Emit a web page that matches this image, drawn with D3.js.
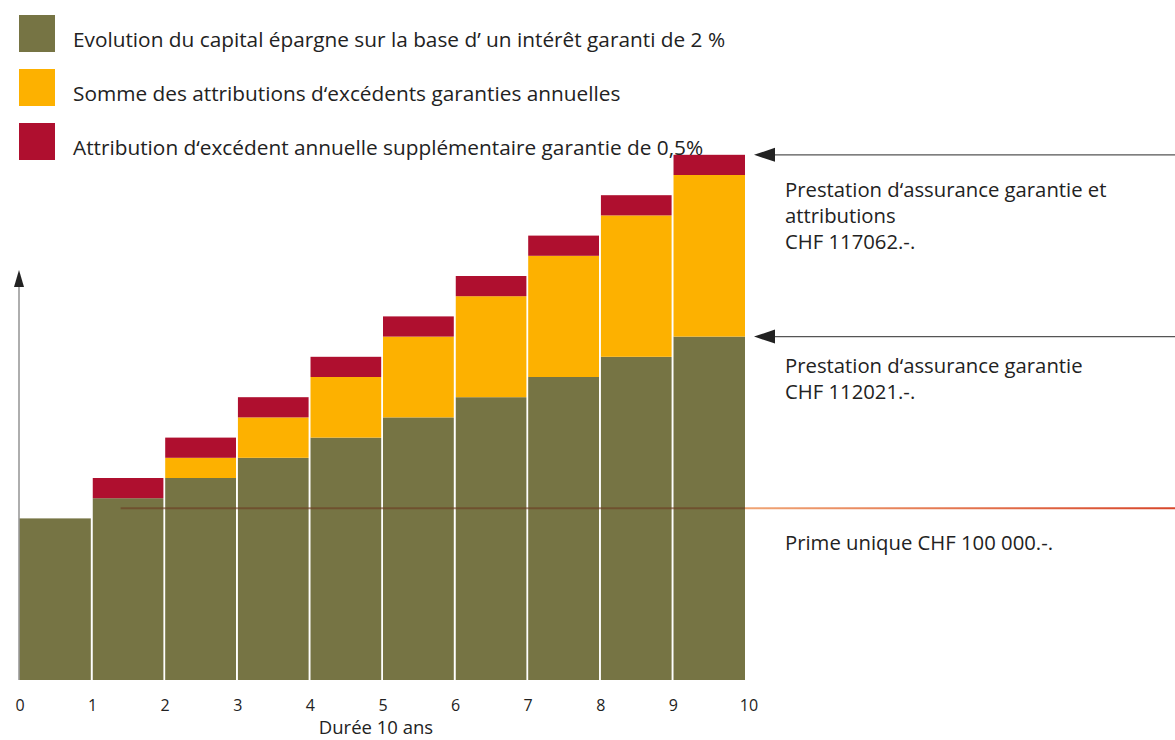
<!DOCTYPE html>
<html><head><meta charset="utf-8">
<script src="https://cdn.jsdelivr.net/npm/d3@7"></script>
<style>
html,body{margin:0;padding:0;background:#fff;}
svg{display:block;font-family:"Open Sans","Noto Sans",sans-serif;}
</style></head>
<body>
<svg id="chart" width="1175" height="740"></svg>
<script>
// ---- data (schematic units) ----
const years = [0,1,2,3,4,5,6,7,8,9];
const tickLabels = ["0","1","2","3","4","5","6","7","8","9","10"];
const capital = [8,9,10,11,12,13,14,15,16,17];          // olive
const sommeAttributions = [0,0,1,2,3,4,5,6,7,8];        // orange
const attributionAnnuelle = [0,1,1,1,1,1,1,1,1,1];      // red
const primeUnique = 8.5;
const legendLabels = [
  "Evolution du capital épargne sur la base d’ un intérêt garanti de 2 %",
  "Somme des attributions d‘excédents garanties annuelles",
  "Attribution d‘excédent annuelle supplémentaire garantie de 0,5%"
];
const colors = ["#767444","#FDB100","#AF0F2F"];
const annotTop = ["Prestation d‘assurance garantie et","attributions","CHF 117062.-."];
const annotMid = ["Prestation d‘assurance garantie","CHF 112021.-."];
const annotLow = ["Prime unique CHF 100 000.-."];
const xTitle = "Durée 10 ans";

// ---- layout ----
const svg = d3.select("#chart");
const x = d3.scaleLinear().domain([0,10]).range([19,745]);
const y = d3.scaleLinear().domain([0,26]).range([680,154.8]);

const defs = svg.append("defs");
const grad = defs.append("linearGradient").attr("id","lineGrad")
  .attr("gradientUnits","userSpaceOnUse").attr("x1",745).attr("x2",1175).attr("y1",0).attr("y2",0);
grad.append("stop").attr("offset","0%").attr("stop-color","#f0a575");
grad.append("stop").attr("offset","100%").attr("stop-color","#d7462a");

// stacked series
const rows = years.map((yr,i)=>({yr, a:capital[i], b:sommeAttributions[i], c:attributionAnnuelle[i]}));
const stack = d3.stack().keys(["a","b","c"])(rows);

svg.append("g").selectAll("g").data(stack).join("g")
  .attr("fill",(d,i)=>colors[i])
  .selectAll("rect").data(d=>d.filter(s=>s[1]-s[0]>0)).join("rect")
  .attr("x",d=>x(d.data.yr)+ (d.data.yr===0?0:1))
  .attr("width",d=>x(d.data.yr+1)-x(d.data.yr)-(d.data.yr===0?0:1))
  .attr("y",d=>y(d[1]))
  .attr("height",d=>y(d[0])-y(d[1]));

// white separators between bars
svg.append("g").selectAll("line").data(years.slice(1)).join("line")
  .attr("x1",d=>x(d)).attr("x2",d=>x(d))
  .attr("y1",d=>y(capital[d]+sommeAttributions[d]+attributionAnnuelle[d])-1).attr("y2",y(0))
  .attr("stroke","#fff").attr("stroke-width",1.6);

// y axis with arrow
svg.append("line").attr("x1",x(0)).attr("x2",x(0)).attr("y1",y(0)).attr("y2",285)
  .attr("stroke","#9a9a9a").attr("stroke-width",1.6);
svg.append("path").attr("d",`M${x(0)-5},${287} L${x(0)},${270} L${x(0)+5},${287} Z`).attr("fill","#222");

// prime unique line
svg.append("line").attr("x1",x(1.4)).attr("x2",x(10)).attr("y1",y(primeUnique)).attr("y2",y(primeUnique))
  .attr("stroke","#6a3a22").attr("stroke-opacity",0.6).attr("stroke-width",2);
svg.append("line").attr("x1",x(10)).attr("x2",1175).attr("y1",y(primeUnique)).attr("y2",y(primeUnique))
  .attr("stroke","url(#lineGrad)").attr("stroke-width",2);

// arrows
const topTotal = capital[9]+sommeAttributions[9]+attributionAnnuelle[9];
[topTotal, capital[9]].forEach(v=>{
  svg.append("line").attr("x1",1175).attr("x2",773).attr("y1",y(v)).attr("y2",y(v))
    .attr("stroke","#555").attr("stroke-width",1.2);
  svg.append("path").attr("d",`M${754},${y(v)} L${775},${y(v)-7} L${775},${y(v)+7} Z`).attr("fill","#222");
});

// x ticks
svg.append("g").selectAll("text").data(tickLabels).join("text")
  .attr("x",(d,i)=>x(i)+(i===10?4:1)).attr("y",711).attr("text-anchor","middle")
  .attr("font-size",16).attr("fill","#222").text(d=>d);
svg.append("text").attr("x",376).attr("y",734).attr("text-anchor","middle")
  .attr("font-size",18.5).attr("fill","#222").text(xTitle);

// legend
const lg = svg.append("g");
legendLabels.forEach((t,i)=>{
  lg.append("rect").attr("x",19).attr("y",15+i*54).attr("width",36).attr("height",37).attr("fill",colors[i]);
  lg.append("text").attr("x",73).attr("y",47+i*54).attr("font-size",20.8).attr("fill","#222").text(t);
});

// annotations
function annot(lines, y0){
  lines.forEach((t,i)=>svg.append("text").attr("x",785).attr("y",y0+i*26)
    .attr("font-size",20.3).attr("fill","#222").text(t));
}
annot(annotTop,197);
annot(annotMid,373);
annot(annotLow,550);
</script>
</body></html>
